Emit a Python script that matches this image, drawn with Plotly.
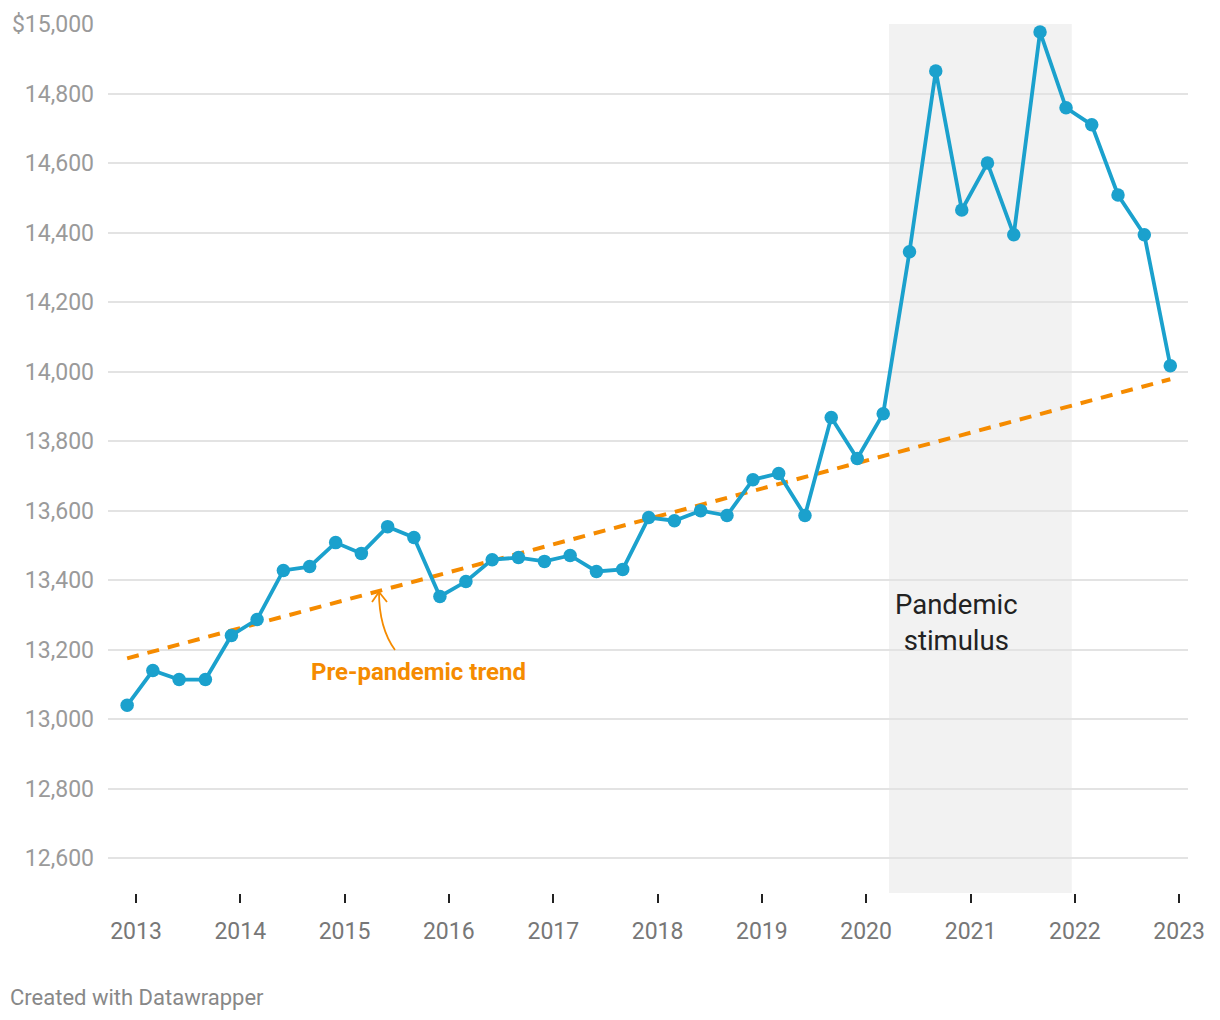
import plotly.graph_objects as go
import pandas as pd

# ---- data ----
start_date = "2012-12-01"
values = [13040, 13140, 13114, 13114, 13241, 13287, 13428, 13439, 13508, 13477,
          13554, 13523, 13353, 13396, 13459, 13465, 13454, 13471, 13425, 13431,
          13580, 13571, 13600, 13586, 13689, 13707, 13586, 13868, 13750, 13879,
          14345, 14865, 14465, 14600, 14394, 14977, 14759, 14710, 14508, 14394,
          14017]
dates = pd.date_range(start_date, periods=len(values), freq="3MS")
trend_dates = ["2012-12-01", "2022-12-01"]
trend_values = [13175, 13978]
y_tickvals = [12600, 12800, 13000, 13200, 13400, 13600, 13800, 14000, 14200, 14400, 14600, 14800, 15000]
y_ticktext = ["12,600", "12,800", "13,000", "13,200", "13,400", "13,600", "13,800",
              "14,000", "14,200", "14,400", "14,600", "14,800", "$15,000"]
x_tickvals = [f"{y}-01-01" for y in range(2013, 2024)]
x_ticktext = [str(y) for y in range(2013, 2024)]

BLUE = "#1ba1cd"
ORANGE = "#f58b00"

# page body has an 8px margin; target pixel coords are page coords
OFF = 8
L, R, T, B = 108, 1188, 24, 893   # plot area in page pixels

fig = go.Figure()
fig.add_trace(go.Scatter(x=trend_dates, y=trend_values, mode="lines",
                         line=dict(color=ORANGE, width=4, dash="12px,9px"),
                         hoverinfo="skip", cliponaxis=False))
fig.add_trace(go.Scatter(x=dates, y=values, mode="lines+markers",
                         line=dict(color=BLUE, width=3.8),
                         marker=dict(color=BLUE, size=13.5),
                         cliponaxis=False))

# pandemic shading
fig.add_shape(type="rect", xref="x", yref="paper", x0="2020-03-21", x1="2021-12-21",
              y0=0, y1=1, fillcolor="#f2f2f2", line_width=0, layer="below")

# curved arrow (paper coords)
def px(x): return (x - L) / (R - L)
def py(y): return (B - y) / (B - T)
path = f"M {px(395)},{py(650)} Q {px(379)},{py(628)} {px(379)},{py(592)}"
fig.add_shape(type="path", xref="paper", yref="paper", path=path,
              line=dict(color=ORANGE, width=1.8))
head = f"M {px(372)},{py(602)} L {px(379)},{py(592)} L {px(387)},{py(602)}"
fig.add_shape(type="path", xref="paper", yref="paper", path=head,
              line=dict(color=ORANGE, width=1.8))

fig.add_annotation(x="2015-09-17", y=13137, xref="x", yref="y",
                   text="<b>Pre-pandemic trend</b>", showarrow=False,
                   font=dict(family="Roboto", size=24, color=ORANGE))
fig.add_annotation(x="2020-11-14", y=13278, xref="x", yref="y",
                   text="Pandemic<br>stimulus", showarrow=False,
                   font=dict(family="Roboto", size=27.5, color="#222222"))
fig.add_annotation(x=px(8), y=py(997), xref="paper", yref="paper",
                   text="Created with Datawrapper", showarrow=False,
                   xanchor="left", yanchor="middle",
                   font=dict(family="Roboto", size=22, color="#888888"))

fig.update_layout(
    width=1220, height=1020,
    margin=dict(l=L - OFF, r=1220 - (R - OFF), t=T - OFF, b=1020 - (B - OFF)),
    plot_bgcolor="white", paper_bgcolor="white",
    showlegend=False,
    font=dict(family="Roboto"),
    xaxis=dict(range=["2012-09-25", "2023-02-01"], type="date",
               tickvals=x_tickvals, ticktext=x_ticktext, automargin=False,
               showgrid=False, zeroline=False, showline=False,
               ticks="outside", ticklen=9, tickwidth=2, tickcolor="#222222",
               ticklabelstandoff=8,
               tickfont=dict(family="Roboto", size=23, color="#777777")),
    yaxis=dict(range=[12500, 15000], tickvals=y_tickvals, ticktext=y_ticktext,
               automargin=False,
               showgrid=True, gridcolor="#e3e3e3", gridwidth=1.5,
               zeroline=False, showline=False, ticks="",
               ticklabelstandoff=13,
               tickfont=dict(family="Roboto", size=23, color="#9a9a9a")),
)

fig.write_html("out.html")
